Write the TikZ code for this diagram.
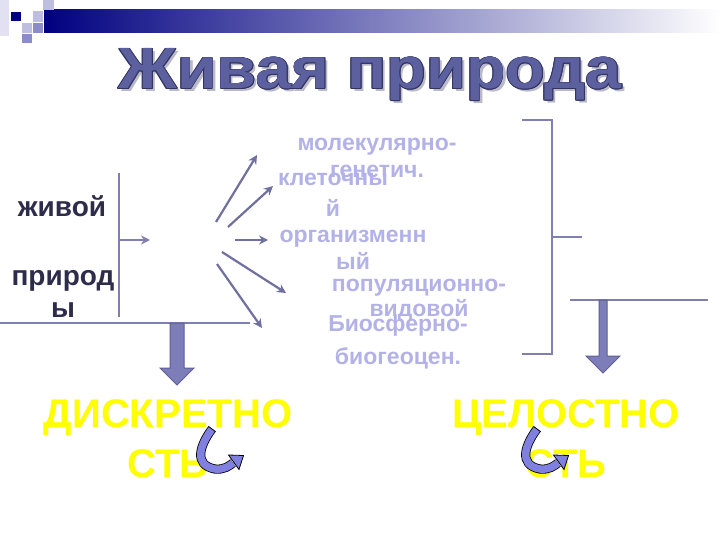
\documentclass[tikz,border=0pt]{standalone}
\usepackage{fontspec}
\setmainfont{Liberation Sans}
\usepackage{graphicx}
\usetikzlibrary{arrows.meta}
\definecolor{navy}{RGB}{0,0,128}
\definecolor{lineC}{RGB}{128,128,176}
\definecolor{arrC}{RGB}{112,112,160}
\definecolor{lvl}{RGB}{178,178,232}
\definecolor{darkT}{RGB}{45,45,75}
\definecolor{titleF}{RGB}{92,96,158}
\definecolor{titleO}{RGB}{50,52,100}
\definecolor{titleS}{RGB}{185,185,200}
\definecolor{blockF}{RGB}{125,125,185}
\definecolor{blockO}{RGB}{95,95,150}
\definecolor{curveF}{RGB}{128,128,224}
\definecolor{yel}{RGB}{255,255,0}
\definecolor{sqA}{RGB}{225,225,242}
\definecolor{sqB}{RGB}{190,190,225}
\definecolor{sqC}{RGB}{140,140,200}
\tikzset{
  plainline/.style={draw=lineC, line width=2pt},
  fanarrow/.style={draw=arrC, line width=2.2pt, -{Stealth[length=9pt,width=9pt]}},
  lvltext/.style={text=lvl, font=\fontsize{23}{27}\selectfont\bfseries, align=center, inner sep=0pt, anchor=base},
  darktext/.style={text=darkT, font=\fontsize{28}{32}\selectfont\bfseries, align=center, inner sep=0pt, anchor=base},
  yeltext/.style={text=yel, font=\fontsize{40}{50}\selectfont\bfseries, align=center, inner sep=0pt, anchor=base},
  blockarrow/.style={fill=blockF, draw=blockO, line width=1pt},
  sq/.style={draw=white, line width=0.6pt},
  curvearrow/.pic={
    \draw[draw=black, line width=0.8pt, double=curveF, double distance=7.5pt]
      (0,0) .. controls (-12,16) and (-19,36) .. (3,40) .. controls (12,41) and (17,37) .. (21,34);
    \draw[black, line width=0.8pt] (-3.6,-2.7) -- (3.6,2.7);
    \filldraw[fill=curveF, draw=black, line width=0.8pt] (16.5,26) -- (31.5,26.5) -- (27,40.5) -- cycle;
  }
}
\begin{document}
\begin{tikzpicture}[x=1pt,y=-1pt]
\useasboundingbox (0,0) rectangle (720,540);
\fill[white] (0,0) rectangle (720,540);
% header bar and squares
\shade[left color=navy, right color=white] (43,10) rectangle (720,33);
\fill[sqA] (0,0) rectangle (9,36);
\fill[sqB] (43,0) rectangle (54,10);
\filldraw[sq, fill=navy] (10,11) rectangle (21,21);
\filldraw[sq, fill=sqB] (32,10) rectangle (43,22);
\filldraw[sq, fill=sqB] (21,22) rectangle (32,33);
\filldraw[sq, fill=sqC] (32,22) rectangle (43,33);
\filldraw[sq, fill=sqC] (21,33) rectangle (32,43);
% title
\node[inner sep=0pt, anchor=base, text=titleS] at (373,92) {\resizebox{503pt}{40pt}{\bfseries Живая природа}};
\foreach \dx/\dy in {-0.8/0,0.8/0,0/-0.8,0/0.8,0.6/0.6,-0.6/-0.6,0.6/-0.6,-0.6/0.6}
  \node[inner sep=0pt, anchor=base, text=titleO] at (370+\dx,89+\dy) {\resizebox{503pt}{40pt}{\bfseries Живая природа}};
\node[inner sep=0pt, anchor=base, text=titleF] (title) at (370,89) {\resizebox{503pt}{40pt}{\bfseries Живая природа}};
% left part
\node[darktext] (zhivoy) at (62,216) {живой};
\node[darktext] (prirody) at (63,317) {природ\\ы};
\coordinate (vtop) at (119,173);
\coordinate (vbot) at (119,317);
\draw[plainline] (vtop) -- (vbot);
\coordinate (amid) at (119,240);
\coordinate (aend) at (150,240);
\draw[plainline, -{Stealth[length=9pt,width=9pt]}] (amid) -- (aend);
\coordinate (hl1) at (0,323);
\coordinate (hl2) at (250,323);
\draw[plainline] (hl1) -- (hl2);
\draw[blockarrow] (170,323) -- (184,323) -- (184,368) -- (194,368) -- (177,385) -- (160,368) -- (170,368) -- cycle;
% level texts (base = last line)
\node[lvltext] (mol) at (377,178) {молекулярно-\\генетич.};
\node[lvltext, font=\fontsize{23}{30}\selectfont\bfseries] (klet) at (333,216) {клеточны\\й};
\node[lvltext, font=\fontsize{23}{26}\selectfont\bfseries] (org) at (353,269) {организменн\\ый};
\node[lvltext, font=\fontsize{23}{25}\selectfont\bfseries] (pop) at (419,316) {популяционно-\\видовой};
\node[lvltext, font=\fontsize{23}{33}\selectfont\bfseries] (bio) at (398,364) {Биосферно-\\биогеоцен.};
% fan arrows
\coordinate (f1s) at (216,222); \coordinate (f1e) at (257,155);
\coordinate (f2s) at (228,227); \coordinate (f2e) at (273,186);
\coordinate (f3s) at (235,240); \coordinate (f3e) at (268,240);
\coordinate (f4s) at (222,252); \coordinate (f4e) at (286,293);
\coordinate (f5s) at (217,264); \coordinate (f5e) at (262,328);
\draw[fanarrow] (f1s) -- (f1e);
\draw[fanarrow] (f2s) -- (f2e);
\draw[fanarrow] (f3s) -- (f3e);
\draw[fanarrow] (f4s) -- (f4e);
\draw[fanarrow] (f5s) -- (f5e);
% right bracket
\coordinate (b1) at (522,120); \coordinate (b2) at (552,120);
\coordinate (b3) at (552,354); \coordinate (b4) at (522,354);
\draw[plainline] (b1) -- (b2) -- (b3) -- (b4);
\coordinate (bt1) at (552,237); \coordinate (bt2) at (582,237);
\draw[plainline] (bt1) -- (bt2);
\coordinate (rl1) at (570,300); \coordinate (rl2) at (708,300);
\draw[plainline] (rl1) -- (rl2);
\draw[blockarrow] (599,300) -- (607,300) -- (607,356) -- (620,356) -- (603,373) -- (586,356) -- (599,356) -- cycle;
% bottom texts (base = last line)
\node[yeltext] (disk) at (168,477) {ДИСКРЕТНО\\СТЬ};
\node[yeltext] (cel) at (566,477) {ЦЕЛОСТНО\\СТЬ};
\pic at (212,429) {curvearrow};
\begin{scope}[shift={(537,429)}, xscale=-1]
\pic at (0,0) {curvearrow};
\end{scope}
\end{tikzpicture}
\end{document}
